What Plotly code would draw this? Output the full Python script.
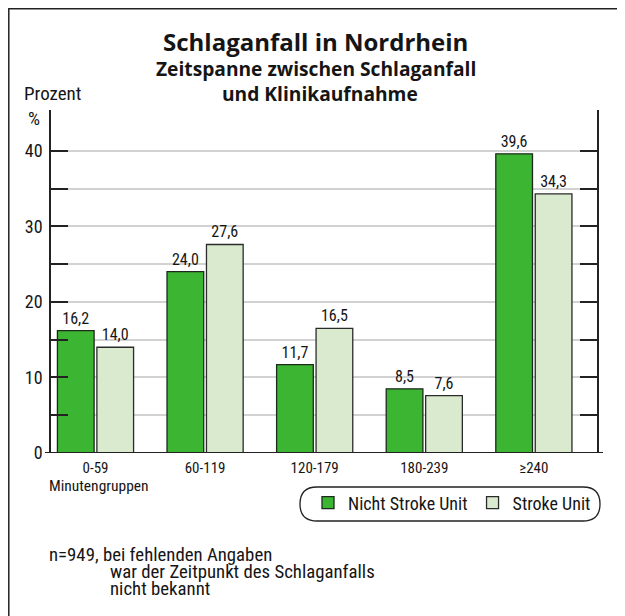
import plotly.graph_objects as go

# ---- data ----
categories = ["0-59", "60-119", "120-179", "180-239", "≥240"]
nicht_stroke_unit = [16.2, 24.0, 11.7, 8.5, 39.6]
stroke_unit = [14.0, 27.6, 16.5, 7.6, 34.3]
y_tick_values = [0, 5, 10, 15, 20, 25, 30, 35, 40]
y_tick_labels = ["0", "", "10", "", "20", "", "30", "", "40"]
series_names = ["Nicht Stroke Unit", "Stroke Unit"]
title_text = "Schlaganfall in Nordrhein"
subtitle_lines = ["Zeitspanne zwischen Schlaganfall", "und Klinikaufnahme"]
footnote_lines = ["n=949, bei fehlenden Angaben",
                  "war der Zeitpunkt des Schlaganfalls",
                  "nicht bekannt"]

# ---- geometry: screen pixels (page has an 8px body margin) ----
PAGE_OFF = 8
W, H = 617, 608
L, R, T, B = 51, 597, 110, 453          # plot area on screen


def px(x):
    return (x - L) / (R - L)


def py(y):
    return (B - y) / (B - T)


BODY = "Roboto Condensed, Open Sans Condensed, DejaVu Sans Condensed, sans-serif"
HEAD = "Open Sans, Roboto, sans-serif"
INK = "#151515"
GREEN = "#3cb532"
LIGHT = "#d9eace"

fig = go.Figure()
for name, vals, color, edge in [
    (series_names[0], nicht_stroke_unit, GREEN, "#1c2a1c"),
    (series_names[1], stroke_unit, LIGHT, "#2b2b2b"),
]:
    fig.add_bar(
        x=list(range(len(categories))), y=vals, name=name,
        marker=dict(color=color, line=dict(color=edge, width=1.3)),
        texttemplate="%{y:.1f}", textposition="outside",
        textfont=dict(family=BODY, size=16, color=INK), cliponaxis=False,
    )


def rounded_rect(x0, y0, x1, y1, r):
    pts = [
        f"M {px(x0 + r)},{py(y0)}",
        f"L {px(x1 - r)},{py(y0)}",
        f"Q {px(x1)},{py(y0)} {px(x1)},{py(y0 + r)}",
        f"L {px(x1)},{py(y1 - r)}",
        f"Q {px(x1)},{py(y1)} {px(x1 - r)},{py(y1)}",
        f"L {px(x0 + r)},{py(y1)}",
        f"Q {px(x0)},{py(y1)} {px(x0)},{py(y1 - r)}",
        f"L {px(x0)},{py(y0 + r)}",
        f"Q {px(x0)},{py(y0)} {px(x0 + r)},{py(y0)}",
        "Z",
    ]
    return " ".join(pts)


shapes = [
    # outer frame
    dict(type="rect", xref="paper", yref="paper",
         x0=px(8.8), x1=px(618), y0=py(8.8), y1=py(622),
         line=dict(color="#222", width=1.5), layer="below"),
    # baseline, slightly longer than the plot area
    dict(type="line", xref="paper", yref="y", x0=px(45), x1=px(603), y0=0, y1=0,
         line=dict(color="#222", width=2)),
    # legend rounded box
    dict(type="path", xref="paper", yref="paper",
         path=rounded_rect(300, 487, 600, 521, 17),
         line=dict(color="#222", width=1.3)),
]

annotations = [
    dict(text=f"<b>{title_text}</b>", x=px(315), y=py(41),
         font=dict(family=HEAD, size=24)),
    dict(text=f"<b>{subtitle_lines[0]}</b>", x=px(315.5), y=py(68.5),
         font=dict(family=HEAD, size=19.2)),
    dict(text=f"<b>{subtitle_lines[1]}</b>", x=px(320), y=py(93.5),
         font=dict(family=HEAD, size=19.2)),
    dict(text="Prozent", x=px(22), y=py(93.5), xanchor="left", font=dict(size=19)),
    dict(text="%", x=px(26), y=py(118.5), xanchor="left", font=dict(size=19)),
    dict(text="Minutengruppen", x=px(47), y=py(485.5), xanchor="left", font=dict(size=15.5)),
    dict(text=footnote_lines[0], x=px(47), y=py(554.5), xanchor="left", font=dict(size=18.8)),
    dict(text=footnote_lines[1], x=px(108), y=py(572), xanchor="left", font=dict(size=18.8)),
    dict(text=footnote_lines[2], x=px(108), y=py(588.5), xanchor="left", font=dict(size=18.8)),
]
for a in annotations:
    a.update(xref="paper", yref="paper", showarrow=False, yanchor="middle")
    a.setdefault("xanchor", "center")

fig.update_layout(
    width=W, height=H,
    margin=dict(l=L - PAGE_OFF, r=W - (R - PAGE_OFF), t=T - PAGE_OFF,
                b=H - (B - PAGE_OFF), autoexpand=False),
    barmode="group", bargap=0.28, bargroupgap=0.07,
    separators=",.",
    plot_bgcolor="white", paper_bgcolor="white",
    font=dict(family=BODY, color=INK, size=16),
    showlegend=True,
    legend=dict(orientation="h", x=px(308), y=py(503), xanchor="left", yanchor="middle",
                font=dict(family=BODY, size=18), bgcolor="rgba(0,0,0,0)", itemwidth=30,
                traceorder="normal"),
    shapes=shapes,
    annotations=annotations,
    xaxis=dict(range=[-0.406, 4.576], tickvals=list(range(len(categories))),
               ticktext=categories, showline=False, ticks="", showgrid=False,
               zeroline=False, tickfont=dict(size=15), ticklabelstandoff=4,
               fixedrange=True),
    yaxis=dict(range=[0, 45.4], tickvals=y_tick_values, ticktext=y_tick_labels,
               ticks="inside", ticklen=17, tickwidth=1.6, tickcolor="#222",
               showline=True, linecolor="#222", linewidth=1.5, mirror="ticks",
               showgrid=True, gridcolor="#d2d2d2", gridwidth=1.5, zeroline=False,
               tickfont=dict(size=18), ticklabelstandoff=3, fixedrange=True),
)

fig.write_html("out.html")
